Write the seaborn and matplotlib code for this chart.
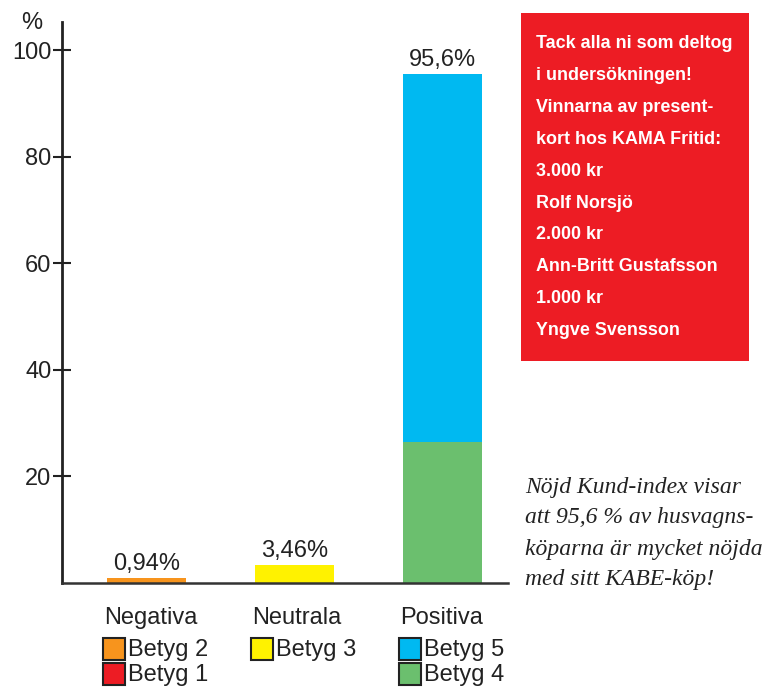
import matplotlib
matplotlib.use("Agg")
import matplotlib.pyplot as plt
import seaborn as sns
import pandas as pd
from matplotlib.patches import Rectangle

categories = ["Negativa", "Neutrala", "Positiva"]
totals = [0.94, 3.46, 95.6]          # Betyg 2, Betyg 3, Betyg 5 (top of stack)
lower = [0.0, 0.0, 26.5]             # Betyg 1, -, Betyg 4
total_labels = ["0,94%", "3,46%", "95,6%"]
yticks = [20, 40, 60, 80, 100]

legend_groups = [
    [("Betyg 2", "#F7941D"), ("Betyg 1", "#ED1C24")],
    [("Betyg 3", "#FFF200")],
    [("Betyg 5", "#00B9F1"), ("Betyg 4", "#6BBF6E")],
]
top_colors = ["#F7941D", "#FFF200", "#00B9F1"]
low_colors = ["#ED1C24", "#FFF200", "#6BBF6E"]

box_lines = ["Tack alla ni som deltog", "i undersökningen!", "Vinnarna av present-",
             "kort hos KAMA Fritid:", "3.000 kr", "Rolf Norsjö", "2.000 kr",
             "Ann-Britt Gustafsson", "1.000 kr", "Yngve Svensson"]
quote_lines = ["Nöjd Kund-index visar", "att 95,6 % av husvagns-",
               "köparna är mycket nöjda", "med sitt KABE-köp!"]

sns.set_style("white")
plt.rcParams['font.family'] = ['Liberation Sans', 'DejaVu Sans']

W, H = 768, 687
fig = plt.figure(figsize=(W / 100, H / 100), dpi=100)
ax = fig.add_axes([62 / W, (H - 583) / H, (508 - 62) / W, (583 - 22) / H])

df_top = pd.DataFrame({"cat": categories, "val": totals})
df_low = pd.DataFrame({"cat": categories, "val": lower})
sns.barplot(data=df_top, x="cat", y="val", hue="cat", palette=top_colors,
            legend=False, width=0.534, ax=ax, saturation=1, linewidth=0)
sns.barplot(data=df_low, x="cat", y="val", hue="cat", palette=low_colors,
            legend=False, width=0.534, ax=ax, saturation=1, linewidth=0)

ax.set_xlim(-0.574, 2.44)
ax.set_ylim(0, 105.3)
ax.set_yticks(yticks)
ax.set_yticklabels([str(t) for t in yticks], fontsize=17, color="#222222")
ax.tick_params(axis="y", left=True, direction="inout", length=13, width=1.5,
               color="#222222", pad=1)
ax.set_xticks([])
ax.set_xlabel("")
ax.set_ylabel("")
for s in ["top", "right"]:
    ax.spines[s].set_visible(False)
ax.spines["left"].set_linewidth(2)
ax.spines["left"].set_color("#222222")
ax.spines["bottom"].set_linewidth(1.8)
ax.spines["bottom"].set_color("#333333")

for i, (t, lab) in enumerate(zip(totals, total_labels)):
    ax.text(i, t + 0.5, lab, ha="center", va="bottom", fontsize=17, color="#222222")

fig.text(32 / W, 1 - 23 / H, "%", ha="center", va="center", fontsize=17, color="#222222")

# category labels and legend swatches below the axis
label_x = [103, 251, 399]
for gx, cat, group in zip(label_x, categories, legend_groups):
    fig.text((gx + 1) / W, 1 - 618 / H, cat, ha="left", va="center", fontsize=17, color="#222222")
    for k, (name, col) in enumerate(group):
        y0 = 638 + k * 25
        fig.patches.append(Rectangle((gx / W, 1 - (y0 + 22) / H), 22 / W, 22 / H,
                                     transform=fig.transFigure, facecolor=col,
                                     edgecolor="#222222", linewidth=1.5))
        fig.text((gx + 25) / W, 1 - (y0 + 12) / H, name, ha="left", va="center",
                 fontsize=17, color="#222222")

# red info box
fig.patches.append(Rectangle((521 / W, 1 - 361 / H), (749 - 521) / W, (361 - 13) / H,
                             transform=fig.transFigure, facecolor="#ED1C24", edgecolor="none"))
for k, line in enumerate(box_lines):
    fig.text(536 / W, 1 - (44 + k * 31.8) / H, line, ha="left", va="center",
             fontsize=12.9, fontweight="bold", color="white",
             family=["Liberation Sans Narrow", "Liberation Sans", "DejaVu Sans"])

# italic quote
for k, line in enumerate(quote_lines):
    fig.text(525 / W, 1 - (487 + k * 31) / H, line, ha="left", va="center",
             fontsize=17, fontstyle="italic", color="#222222",
             family=["Liberation Serif", "DejaVu Serif"])

fig.savefig("out.png", dpi=100)
